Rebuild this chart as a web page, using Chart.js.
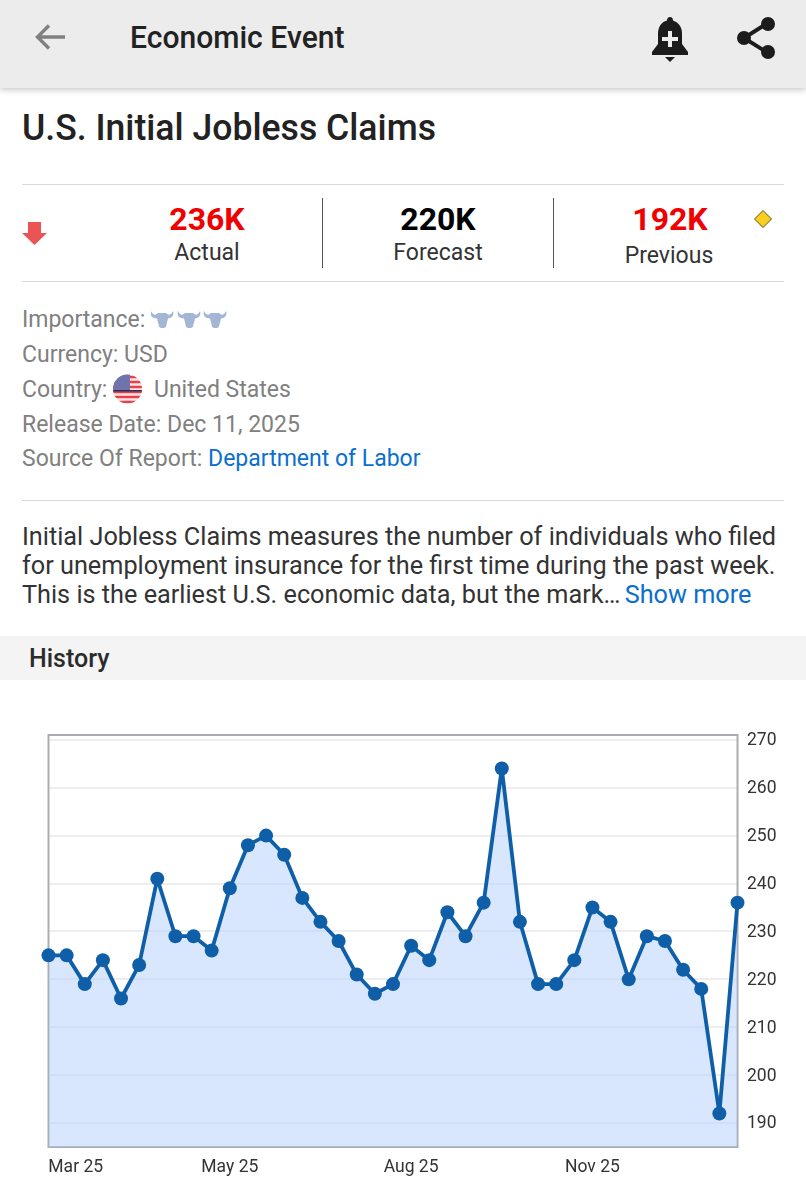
<!DOCTYPE html>
<html>
<head>
<meta charset="utf-8">
<title>U.S. Initial Jobless Claims</title>
<script src="https://cdn.jsdelivr.net/npm/chart.js@4"></script>
<style>
  html, body { margin: 0; padding: 0; background: #fff; }
  body { width: 806px; height: 1194px; position: relative; overflow: hidden; font-family: Roboto, sans-serif; }
  .t { position: absolute; white-space: nowrap; line-height: 1; transform-origin: left center; }
  .c { transform: translate(-50%, 0); text-align: center; }
  .hr { position: absolute; left: 22px; width: 762px; height: 1px; background: #d9d9d9; }
  .vr { position: absolute; top: 198px; width: 1px; height: 70px; background: #555; }
  .gray { color: #808080; font-size: 23px; }
  .para { color: #333; font-size: 25.25px; left: 22px; }
  a { color: #0a6fd0; text-decoration: none; }
  #header { position: absolute; left: 0; top: 0; width: 806px; height: 88px; background: #ececec; box-shadow: 0 2px 6px rgba(0,0,0,.22); }
  #band { position: absolute; left: 0; top: 636px; width: 806px; height: 44px; background: #f4f4f4; }
  #wrap { position: absolute; left: 0; top: 680px; width: 806px; height: 514px; }
  svg { position: absolute; }
</style>
</head>
<body>
<div id="header"></div>
<svg style="left:34px;top:22px" width="34" height="30" viewBox="0 0 34 30"><path d="M31 15H4M15 3.500 3.500 15 15 26.500" fill="none" stroke="#808080" stroke-width="3.400"/></svg>
<div class="t" style="left:130px;top:22px;font-size:31px;font-weight:500;color:#222;transform:scaleX(.97)">Economic Event</div>
<svg style="left:650px;top:16px" width="40" height="48" viewBox="0 0 40 48"><path d="M20 1c2 0 3 1.500 3 3.500 6 2 9 7 9 13V28l6 8v3H2v-3l6-8V17.500c0-6 3-11.500 9-13C17 2.500 18 1 20 1z" fill="#1c1c1c"/><path d="M15 41h10l-5 5z" fill="#1c1c1c"/><path d="M18 15h4v6h6v4h-6v6h-4v-6h-6v-4h6z" fill="#ececec"/></svg>
<svg style="left:735px;top:15px" width="42" height="46" viewBox="0 0 42 46"><path d="M31 9 9 23l24 15" fill="none" stroke="#1c1c1c" stroke-width="4"/><circle cx="33" cy="9" r="7" fill="#1c1c1c"/><circle cx="9" cy="23" r="7" fill="#1c1c1c"/><circle cx="33" cy="37" r="7" fill="#1c1c1c"/></svg>

<div class="t" style="left:22px;top:109px;font-size:37px;font-weight:500;color:#222;transform:scaleX(.962)">U.S. Initial Jobless Claims</div>
<div class="hr" style="top:184px"></div>
<div class="hr" style="top:281px"></div>
<div class="vr" style="left:322px"></div>
<div class="vr" style="left:553px"></div>
<svg style="left:22px;top:221px" width="25" height="25" viewBox="0 0 25 25"><path d="M6 1h13v11h6L12.500 24 0 12h6z" fill="#ea5455"/></svg>
<div class="t c" style="left:207px;top:203px;font-size:32px;font-weight:700;color:#f00000">236K</div>
<div class="t c" style="left:207px;top:241px;font-size:23px;color:#333">Actual</div>
<div class="t c" style="left:438px;top:203px;font-size:32px;font-weight:700;color:#000">220K</div>
<div class="t c" style="left:438px;top:241px;font-size:23px;color:#333">Forecast</div>
<div class="t c" style="left:670px;top:203px;font-size:32px;font-weight:700;color:#f00000">192K</div>
<div class="t c" style="left:669px;top:244px;font-size:23px;color:#333">Previous</div>
<svg style="left:753px;top:209px" width="20" height="20" viewBox="0 0 20 20"><path d="M10 1.500 18.500 10 10 18.500 1.500 10z" fill="#f7cf1c" stroke="#5b5220" stroke-width="1"/></svg>

<div class="t gray" style="left:22px;top:308px">Importance:</div>
<svg style="left:151px;top:310px" width="76" height="20" viewBox="0 0 76 20"><defs><path id="bull" d="M0 1c1 2 2 3 4 4L7 3h8l3 2c2-1 3-2 4-4 1 3 0 6-3 7l-2 .5-2 8c-1 2-6 2-7 0l-2-8L3 8C0 7-1 4 0 1z" fill="#a4b6d6"/></defs><use href="#bull"/><use href="#bull" x="27"/><use href="#bull" x="53"/></svg>
<div class="t gray" style="left:22px;top:343px">Currency: USD</div>
<div class="t gray" style="left:22px;top:378px">Country:</div>
<svg style="left:113px;top:374px" width="29" height="30" viewBox="0 0 29 30"><defs><clipPath id="round"><circle cx="14.500" cy="15" r="14.500"/></clipPath></defs><g clip-path="url(#round)"><rect width="29" height="30" fill="#fbe4e4"/><path d="M0 3h29M0 8h29M0 13h29M0 18h29M0 23h29M0 28h29" stroke="#e8404a" stroke-width="2.600"/><rect width="17" height="16" fill="#6f74ad"/><rect y="16" width="29" height="1.500" fill="#26305f"/></g></svg>
<div class="t gray" style="left:154px;top:378px">United States</div>
<div class="t gray" style="left:22px;top:413px">Release Date: Dec 11, 2025</div>
<div class="t gray" style="left:22px;top:447px">Source Of Report: <a>Department of Labor</a></div>
<div class="hr" style="top:500px"></div>

<div class="t para" style="top:524px">Initial Jobless Claims measures the number of individuals who filed</div>
<div class="t para" style="top:553px">for unemployment insurance for the first time during the past week.</div>
<div class="t para" style="top:582px">This is the earliest U.S. economic data, but the mark… <a style="margin-left:-2px">Show more</a></div>

<div id="band"></div>
<div class="t" style="left:29px;top:646px;font-size:25px;font-weight:500;color:#2b2b2b">History</div>

<div id="wrap"><canvas id="chart"></canvas></div>

<script>
// weekly claims, thousands
const claims = [225, 225, 219, 224, 216, 223, 241, 229, 229, 226, 239, 248, 250, 246, 237, 232, 228, 221, 217, 219,
  227, 224, 234, 229, 236, 264, 232, 219, 219, 224, 235, 232, 220, 229, 228, 222, 218, 192, 236];
const yTicks = [190, 200, 210, 220, 230, 240, 250, 260, 270];
const xTickLabels = ['Mar 25', 'May 25', 'Aug 25', 'Nov 25'];
const xTickWeeks = [1.5, 10, 20, 30];

const points = claims.map((v, i) => ({ x: i, y: v }));

// outline around the plot area
const plotFrame = {
  id: 'plotFrame',
  beforeDatasetsDraw(chart) {
    const { ctx, chartArea: a } = chart;
    ctx.save();
    ctx.strokeStyle = '#a9adb2';
    ctx.lineWidth = 2;
    ctx.strokeRect(a.left, a.top, a.right - a.left, a.bottom - a.top);
    ctx.restore();
  }
};

new Chart(document.getElementById('chart'), {
  type: 'line',
  data: {
    datasets: [{
      data: points,
      borderColor: '#0f5fa8',
      borderWidth: 3.8,
      borderJoinStyle: 'round',
      backgroundColor: 'rgba(177, 207, 251, 0.5)',
      fill: 'start',
      tension: 0,
      clip: false,
      pointRadius: 7,
      pointBackgroundColor: '#0f5fa8',
      pointBorderWidth: 0
    }]
  },
  options: {
    responsive: true,
    maintainAspectRatio: false,
    animation: false,
    layout: { padding: { left: 48.5, top: 55 } },
    plugins: { legend: { display: false }, tooltip: { enabled: false } },
    scales: {
      x: {
        type: 'linear',
        min: 0,
        max: claims.length - 1,
        afterBuildTicks: s => { s.ticks = xTickWeeks.map(v => ({ value: v })); },
        afterFit: s => { s.height = 47; },
        grid: { display: false },
        border: { display: false },
        ticks: {
          color: '#333',
          font: { family: 'Roboto', size: 17.5 },
          padding: 2,
          maxRotation: 0,
          callback: v => xTickLabels[xTickWeeks.indexOf(v)]
        }
      },
      y: {
        position: 'right',
        min: 185,
        max: 271,
        afterBuildTicks: s => { s.ticks = yTicks.map(v => ({ value: v })); },
        afterFit: s => { s.width = 68.5; },
        grid: { color: '#eeeeee', lineWidth: 2, drawTicks: false },
        border: { display: false },
        ticks: { color: '#333', font: { family: 'Roboto', size: 17.5 }, padding: 9.5, labelOffset: 1 }
      }
    }
  },
  plugins: [plotFrame]
});
</script>
</body>
</html>
